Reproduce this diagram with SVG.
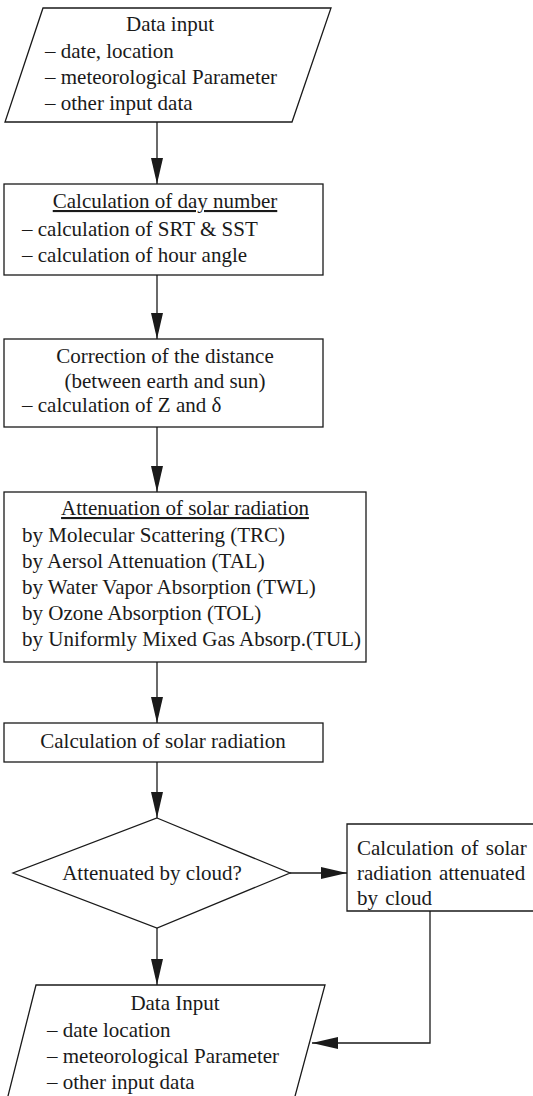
<svg xmlns="http://www.w3.org/2000/svg" width="533" height="1096" viewBox="0 0 533 1096">
<style>
.s{fill:none;stroke:#1a1a1a;stroke-width:1.3}
text{font-family:'Liberation Serif','Times New Roman','DejaVu Serif',serif;font-size:21px;fill:#1a1a1a}
.c{text-anchor:middle}
.u{text-decoration:underline}
.w{word-spacing:2px}
.l{fill:none;stroke:#1a1a1a;stroke-width:1.3}
</style>
<defs>
<marker id="ah" markerUnits="userSpaceOnUse" markerWidth="26" markerHeight="12" viewBox="0 0 26 12" refX="26" refY="6" orient="auto">
<path d="M0,0 L26,6 L0,12 z" fill="#1a1a1a"/>
</marker>
</defs>
<rect width="533" height="1096" fill="#fff"/>
<g id="input1">
<polygon class="s" points="43,8 331,8 292,122 5,122"/>
<text class="c" x="170" y="31">Data input</text>
<text x="45" y="58">– date, location</text>
<text x="45" y="84">– meteorological Parameter</text>
<text x="45" y="110">– other input data</text>
</g>
<g id="daynumber">
<rect class="s" x="4" y="184" width="319" height="91"/>
<text class="c u" x="165" y="208">Calculation of day number</text>
<text x="22" y="236">– calculation of SRT &amp; SST</text>
<text x="22" y="262">– calculation of hour angle</text>
</g>
<g id="distance">
<rect class="s" x="4" y="339" width="319" height="88"/>
<text class="c" x="165" y="363">Correction of the distance</text>
<text class="c" x="165" y="388">(between earth and sun)</text>
<text x="22" y="412">– calculation of Z and δ</text>
</g>
<g id="attenuation">
<rect class="s" x="4" y="492" width="362" height="170"/>
<text class="c u" x="185" y="515">Attenuation of solar radiation</text>
<text x="22" y="542">by Molecular Scattering (TRC)</text>
<text x="22" y="568">by Aersol Attenuation (TAL)</text>
<text x="22" y="594">by Water Vapor Absorption (TWL)</text>
<text x="22" y="620">by Ozone Absorption (TOL)</text>
<text x="22" y="646">by Uniformly Mixed Gas Absorp.(TUL)</text>
</g>
<g id="solarcalc">
<rect class="s" x="4" y="723" width="319" height="39"/>
<text class="c" x="163" y="748">Calculation of solar radiation</text>
</g>
<g id="decision">
<polygon class="s" points="157,818 290,873 157,928 13,873"/>
<text class="c" x="152" y="880">Attenuated by cloud?</text>
</g>
<g id="cloudcalc">
<polyline class="s" points="540,824 347,824 347,911 540,911"/>
<text class="w" x="357" y="855">Calculation of solar</text>
<text class="w" x="357" y="880">radiation attenuated</text>
<text class="w" x="357" y="905">by cloud</text>
</g>
<g id="input2">
<polyline class="s" points="7,1100 36,985 325,985 294,1100"/>
<text class="c" x="175" y="1010">Data Input</text>
<text x="47" y="1037">– date  location</text>
<text x="47" y="1063">– meteorological Parameter</text>
<text x="47" y="1089">– other input data</text>
</g>
<g id="connectors">
<line class="l" x1="157" y1="122" x2="157" y2="184" marker-end="url(#ah)"/>
<line class="l" x1="157" y1="275" x2="157" y2="339" marker-end="url(#ah)"/>
<line class="l" x1="157" y1="427" x2="157" y2="492" marker-end="url(#ah)"/>
<line class="l" x1="157" y1="662" x2="157" y2="723" marker-end="url(#ah)"/>
<line class="l" x1="157" y1="762" x2="157" y2="818" marker-end="url(#ah)"/>
<line class="l" x1="290" y1="873" x2="347" y2="873" marker-end="url(#ah)"/>
<line class="l" x1="157" y1="928" x2="157" y2="985" marker-end="url(#ah)"/>
<polyline class="l" points="430,911 430,1043 312,1043" marker-end="url(#ah)"/>
</g>
</svg>
